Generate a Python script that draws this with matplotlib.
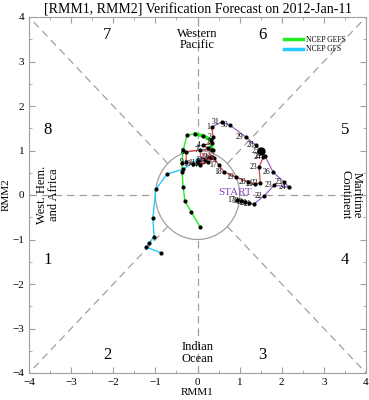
import numpy as np
import matplotlib
matplotlib.use("Agg")
import matplotlib.pyplot as plt
from matplotlib.ticker import MultipleLocator

plt.rcParams["font.family"] = ["Liberation Serif", "DejaVu Serif"]

# observed RMM, December (purple) and January (red)
dec_days = [17, 18, 19, 20, 21, 22, 23, 24, 25, 26, 27, 28, 29, 30, 31]
dec_rmm1 = [0.94, 1.03, 1.13, 1.22, 1.34, 1.58, 1.82, 2.17, 2.05, 1.79, 1.60, 1.39, 1.15, 0.77, 0.58]
dec_rmm2 = [-0.11, -0.13, -0.16, -0.18, -0.20, -0.02, 0.22, 0.18, 0.29, 0.52, 0.88, 1.12, 1.30, 1.57, 1.64]

jan_days = list(range(1, 26))
jan_rmm1 = [0.34, 0.37, 0.34, 0.13, 0.25, 0.37, 0.06, -0.27, -0.27, -0.11, 0.01, 0.18, 0.30,
            0.06, 0.25, 0.39, 0.51, 0.63, 0.92, 1.20, 1.37, 1.49, 1.46, 1.56, 1.51]
jan_rmm2 = [1.53, 1.30, 1.17, 1.12, 1.06, 1.01, 1.01, 0.97, 0.74, 0.70, 0.72, 0.79, 0.85,
            0.67, 0.74, 0.83, 0.67, 0.52, 0.40, 0.29, 0.25, 0.27, 0.63, 0.85, 0.99]

# forecasts issued 2012-Jan-11
gefs_rmm1 = [0.34, 0.32, 0.13, -0.06, -0.25, -0.34, -0.37, -0.37, -0.34, -0.30, -0.15, 0.06]
gefs_rmm2 = [1.01, 1.24, 1.33, 1.37, 1.35, 1.01, 0.72, 0.52, 0.18, -0.13, -0.38, -0.72]
gfs_rmm1 = [0.34, 0.00, -0.34, -0.72, -0.99, -1.06, -1.03, -1.15, -1.22, -0.87]
gfs_rmm2 = [0.85, 0.79, 0.58, 0.47, 0.13, -0.52, -0.94, -1.08, -1.17, -1.30]

phase_labels = ["1", "2", "3", "4", "5", "6", "7", "8"]
phase_x = [-3.55, -2.15, 1.53, 3.5, 3.5, 1.53, -2.15, -3.55]
phase_y = [-1.46, -3.6, -3.6, -1.46, 1.45, 3.6, 3.6, 1.45]

fig = plt.figure(figsize=(3.69, 4.0), dpi=100)
ax = fig.add_axes([0.0786, 0.0675, 0.9134, 0.89])

grey = "#a0a0a0"
dash = dict(color=grey, lw=0.9, ls=(0, (6, 4)), zorder=1)
r = 1 / np.sqrt(2)
ax.plot([-4, -1], [0, 0], **dash)
ax.plot([1, 4], [0, 0], **dash)
ax.plot([0, 0], [1, 4], **dash)
ax.plot([0, 0], [-4, -1], **dash)
for sx in (-1, 1):
    for sy in (-1, 1):
        ax.plot([sx * r, sx * 4], [sy * r, sy * 4], **dash)
t = np.linspace(0, 2 * np.pi, 200)
ax.plot(np.cos(t), np.sin(t), color=grey, lw=0.9, zorder=1)

# phase numbers and regions
for lab, px, py in zip(phase_labels, phase_x, phase_y):
    ax.text(px, py, lab, fontsize=12, ha="center", va="center")
ax.text(0, 3.5, "Western\nPacific", fontsize=9, ha="center", va="center", linespacing=0.9)
ax.text(0, -3.55, "Indian\nOcean", fontsize=9, ha="center", va="center", linespacing=0.9)
ax.text(-3.55, 0, "West. Hem.\nand Africa", fontsize=9, ha="center", va="center",
        rotation=90, linespacing=0.9)
ax.text(3.65, 0, "Maritime\nContinent", fontsize=9, ha="center", va="center",
        rotation=270, linespacing=0.9)

# forecasts
ax.plot(gefs_rmm1, gefs_rmm2, color="#22ee22", lw=1.0, zorder=3)
ax.plot(gefs_rmm1[:4], gefs_rmm2[:4], color="#22ee22", lw=2.5, zorder=3)
ax.plot(gefs_rmm1, gefs_rmm2, "o", color="k", ms=2, zorder=5)
ax.plot(gfs_rmm1, gfs_rmm2, color="#22ccff", lw=1.0, zorder=3)
ax.plot(gfs_rmm1[:2], gfs_rmm2[:2], color="#22ccff", lw=2.5, zorder=3)
ax.plot(gfs_rmm1, gfs_rmm2, "o", color="k", ms=2, zorder=5)

# observed
ax.plot(dec_rmm1 + [jan_rmm1[0]], dec_rmm2 + [jan_rmm2[0]], color="#9966cc", lw=0.9, zorder=4)
ax.plot(jan_rmm1, jan_rmm2, color="#dd4444", lw=0.9, zorder=4)
ax.plot(dec_rmm1 + jan_rmm1, dec_rmm2 + jan_rmm2, "o", color="k", ms=2, zorder=5)
ax.plot(jan_rmm1[-1], jan_rmm2[-1], "o", color="k", ms=5, zorder=6)
for d, x, y in zip(dec_days, dec_rmm1, dec_rmm2):
    ax.text(x - 0.05, y, str(d), fontsize=5.5, ha="right", va="center", zorder=6)
for d, x, y in zip(jan_days, jan_rmm1, jan_rmm2):
    ax.text(x - 0.05, y, str(d), fontsize=5.5, ha="right", va="center", zorder=6)
ax.text(0.89, 0.05, "START", fontsize=8, color="#8844bb", ha="center", va="center", zorder=6)
ax.text(0.22, 0.85, "JAN", fontsize=7, color="#dd3333", ha="center", va="center", zorder=6)

# legend
ax.plot([], [], color="#22ee22", lw=2.5, label="NCEP GEFS")
ax.plot([], [], color="#22ccff", lw=2.5, label="NCEP GFS")
ax.legend(loc="upper right", bbox_to_anchor=(0.955, 0.96), fontsize=5.5, frameon=False,
          handlelength=2.6, handletextpad=0.4, labelspacing=0.2, borderpad=0.1)

ax.set_xlim(-4, 4)
ax.set_ylim(-4, 4)
ax.xaxis.set_major_locator(MultipleLocator(1))
ax.yaxis.set_major_locator(MultipleLocator(1))
ax.xaxis.set_minor_locator(MultipleLocator(0.5))
ax.yaxis.set_minor_locator(MultipleLocator(0.5))
ax.tick_params(which="both", direction="in", top=True, right=True, colors=grey,
               labelcolor="k", labelsize=8)
ax.tick_params(which="major", length=4)
ax.tick_params(which="minor", length=2)
for sp in ax.spines.values():
    sp.set_color(grey)
ax.set_xlabel("RMM1", fontsize=8, labelpad=1)
ax.set_ylabel("RMM2", fontsize=8, labelpad=1)
ax.set_title("[RMM1, RMM2] Verification Forecast on 2012-Jan-11", fontsize=10, pad=2)

fig.savefig("out.png", dpi=100)
